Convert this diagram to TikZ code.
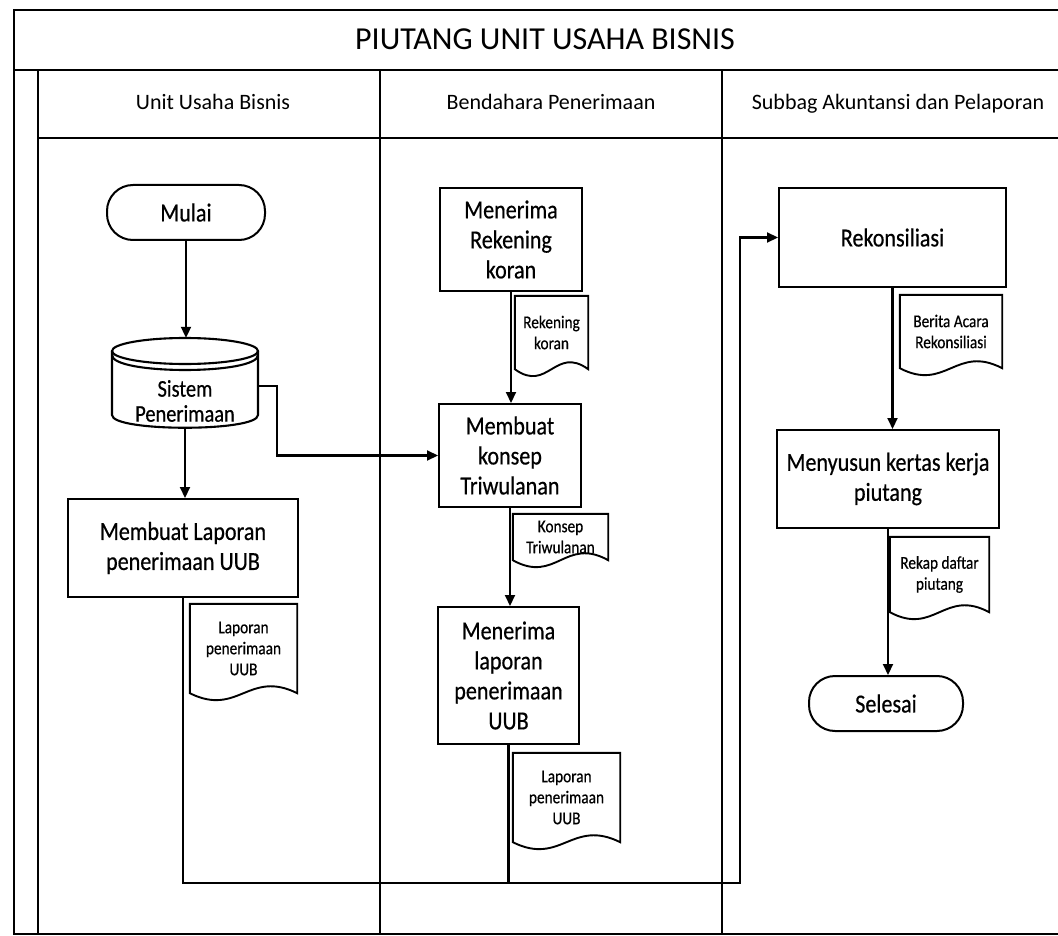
\documentclass[tikz,border=0pt]{standalone}
\usepackage{fontspec}
\setmainfont{Carlito}
\newfontfamily\narrowfont{Carlito}[FakeStretch=0.85,FakeBold=0.5]
\usetikzlibrary{arrows.meta,calc}

% outline of a flowchart document symbol drawn around a node
\newcommand\flowdoc[1]{%
  \draw[docline] (#1.south west) -- (#1.north west) -- (#1.north east) -- (#1.south east)
    .. controls ($(#1.south east)!0.45!(#1.south west)+(0,-24)$)
    and ($(#1.south west)!0.45!(#1.south east)+(0,24)$) .. (#1.south west) -- cycle;}

\begin{document}
\begin{tikzpicture}[x=1pt,y=-1pt,
  frame/.style={line width=2.4pt},
  conn/.style={line width=2.1pt},
  flow/.style={conn,-{Triangle[length=11pt,width=10pt]}},
  docline/.style={line width=1.9pt},
  procbox/.style={draw,line width=2pt,align=center,inner sep=0pt,
    font=\narrowfont\fontsize{26}{30}\selectfont},
  termbox/.style={procbox,rounded corners=26pt},
  docbox/.style={align=center,inner sep=0pt,font=\narrowfont\fontsize{18}{21}\selectfont},
  headtext/.style={font=\fontsize{22}{26}\selectfont,text height=15pt,text depth=5pt}]

\useasboundingbox[fill=white] (0,0) rectangle (1058,936);

% swimlane frame
\draw[frame] (1058,10) -- (14,10) -- (14,934) -- (1058,934);
\draw[frame] (14,70) -- (1058,70);
\draw[frame] (38,70) -- (38,934);
\draw[frame] (38,138) -- (1058,138);
\draw[frame] (380,70) -- (380,934);
\draw[frame] (722,70) -- (722,934);

\node[font=\fontsize{32}{38}\selectfont,text height=22pt,text depth=7pt] (title) at (545,42) {PIUTANG UNIT USAHA BISNIS};
\node[headtext] (lane1) at (213,105) {Unit Usaha Bisnis};
\node[headtext] (lane2) at (551,105) {Bendahara Penerimaan};
\node[headtext] (lane3) at (898,105) {Subbag Akuntansi dan Pelaporan};

% lane 1: Unit Usaha Bisnis
\node[termbox,minimum width=158,minimum height=55] (mulai) at (186,212.5) {Mulai};
\node[minimum width=146,minimum height=90,inner sep=0pt] (sys) at (185,383) {};
\begin{scope}[shift={(sys.center)}]
  \draw[conn] (-73,-32) -- (-73,32) .. controls (-73,49) and (73,49) .. (73,32) -- (73,-32);
  \draw[conn] (0,-32) ellipse [x radius=73, y radius=13];
  \draw[conn] (-73,-28) .. controls (-73,-8) and (73,-8) .. (73,-28);
\end{scope}
\node[font=\narrowfont\fontsize{24}{25}\selectfont,align=center,inner sep=0pt] (syslbl) at (185,401) {Sistem\\Penerimaan};
\node[procbox,minimum width=230,minimum height=98] (mlap) at (183,548) {Membuat Laporan\\penerimaan UUB};
\node[docbox,minimum width=107,minimum height=89] (doc1) at (243.5,648.5) {Laporan\\penerimaan\\UUB};
\flowdoc{doc1}

% lane 2: Bendahara Penerimaan
\node[procbox,minimum width=142,minimum height=103] (mrk) at (511,239.5) {Menerima\\Rekening\\koran};
\node[docbox,minimum width=73,minimum height=73] (doc2) at (551.5,332.5) {Rekening\\koran};
\flowdoc{doc2}
\node[procbox,minimum width=142,minimum height=103] (mkt) at (510,455.5) {Membuat\\konsep\\Triwulanan};
\node[docbox,minimum width=95,minimum height=46] (doc3) at (560.5,537) {Konsep\\Triwulanan};
\flowdoc{doc3}
\node[procbox,minimum width=141,minimum height=137] (mlp) at (508.5,675.5) {Menerima\\laporan\\penerimaan\\UUB};
\node[docbox,minimum width=107,minimum height=89] (doc4) at (566.5,797.5) {Laporan\\penerimaan\\UUB};
\flowdoc{doc4}

% lane 3: Subbag Akuntansi dan Pelaporan
\node[procbox,minimum width=227,minimum height=99] (rek) at (892.5,237.5) {Rekonsiliasi};
\node[docbox,minimum width=102,minimum height=73] (doc5) at (951,331.5) {Berita Acara\\Rekonsiliasi};
\flowdoc{doc5}
\node[procbox,minimum width=222,minimum height=98] (mks) at (888,479) {Menyusun kertas kerja\\piutang};
\node[docbox,minimum width=99,minimum height=75] (doc6) at (939.5,574.5) {Rekap daftar\\piutang};
\flowdoc{doc6}
\node[termbox,minimum width=154,minimum height=55] (sel) at (886,703.5) {Selesai};

% connectors
\coordinate (bus) at (740,883);
\draw[flow] (mulai.south) -- (mulai.south |- sys.north);
\draw[flow] (sys.south) -- (sys.south |- mlap.north);
\draw[flow] ([yshift=-3pt]sys.east) -- ++(19,0) |- (mkt.west);
\draw[flow] (mrk.south) -- (mrk.south |- mkt.north);
\draw[flow] (mkt.south) -- (mkt.south |- mlp.north);
\draw[conn] (mlp.south) -- (mlp.south |- bus);
\draw[flow] (mlap.south) |- (bus) |- (rek.west);
\draw[flow] (rek.south) -- (rek.south |- mks.north);
\draw[flow] (mks.south) -- (mks.south |- sel.north);

\end{tikzpicture}
\end{document}
